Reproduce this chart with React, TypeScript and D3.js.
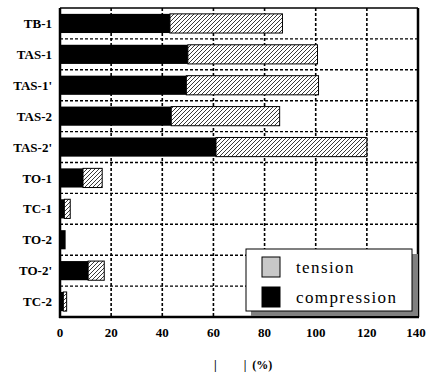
import * as d3 from 'd3';
import React, { useRef, useEffect } from 'react';

const categories = ['TB-1', 'TAS-1', "TAS-1'", 'TAS-2', "TAS-2'", 'TO-1', 'TC-1', 'TO-2', "TO-2'", 'TC-2'];
const compression = [43, 50, 49.4, 43.5, 61, 9, 1.7, 2.2, 11, 1.3];
const tension = [44, 50.7, 51.7, 42.4, 59, 7.5, 2.3, 0, 6.3, 1.3];
const xTicks = [0, 20, 40, 60, 80, 100, 120, 140];
const legendLabels = ['tension', 'compression'];

const W = 427, H = 376;
const margin = { top: 8, right: 9, bottom: 59, left: 60 };
const serif = "'Liberation Serif', 'Times New Roman', Times, serif";

function App() {
    const ref = useRef<SVGSVGElement>(null);

    useEffect(() => {
        const svg = d3.select(ref.current);
        svg.selectAll('*').remove();
        const iw = W - margin.left - margin.right;
        const ih = H - margin.top - margin.bottom;

        const defs = svg.append('defs');
        const pat = defs.append('pattern')
            .attr('id', 'hatch')
            .attr('patternUnits', 'userSpaceOnUse')
            .attr('width', 4).attr('height', 4);
        pat.append('rect').attr('width', 4).attr('height', 4).attr('fill', 'white');
        pat.append('path')
            .attr('d', 'M-1,1 l2,-2 M0,4 l4,-4 M3,5 l2,-2')
            .attr('stroke', '#222').attr('stroke-width', 0.9);

        const g = svg.append('g')
            .attr('transform', 'translate(' + margin.left + ',' + margin.top + ')');

        const x = d3.scaleLinear().domain([0, 140]).range([0, iw]);
        const y = d3.scaleBand().domain(categories).range([0, ih]).paddingInner(0.38).paddingOuter(0.19);
        const step = y.step();
        const band = (c: string) => y(c)! - y.paddingInner() * step / 2;

        // grid
        g.selectAll('line.vg')
            .data(xTicks.slice(1, -1))
            .enter().append('line')
            .attr('x1', d => x(d)).attr('x2', d => x(d))
            .attr('y1', 0).attr('y2', ih)
            .attr('stroke', 'black').attr('stroke-width', 1.6)
            .attr('stroke-dasharray', '3,2');
        g.selectAll('line.hg')
            .data(categories.slice(1))
            .enter().append('line')
            .attr('x1', 0).attr('x2', iw)
            .attr('y1', d => band(d)).attr('y2', d => band(d))
            .attr('stroke', 'black').attr('stroke-width', 1.4)
            .attr('stroke-dasharray', '3,2');

        // bars
        g.selectAll('rect.ten')
            .data(categories)
            .enter().append('rect')
            .attr('x', (d, i) => x(compression[i]))
            .attr('y', d => y(d)!)
            .attr('width', (d, i) => x(tension[i]))
            .attr('height', y.bandwidth())
            .attr('fill', 'url(#hatch)')
            .attr('stroke', (d, i) => tension[i] > 0 ? 'black' : 'none')
            .attr('stroke-width', 1);
        g.selectAll('rect.comp')
            .data(categories)
            .enter().append('rect')
            .attr('x', 0)
            .attr('y', d => y(d)!)
            .attr('width', (d, i) => x(compression[i]))
            .attr('height', y.bandwidth())
            .attr('fill', 'black');

        // frame
        g.append('line').attr('x1', 0).attr('x2', iw).attr('y1', 0).attr('y2', 0)
            .attr('stroke', 'black').attr('stroke-width', 1.5);
        g.append('line').attr('x1', iw).attr('x2', iw).attr('y1', 0).attr('y2', ih)
            .attr('stroke', 'black').attr('stroke-width', 2.5);
        g.append('line').attr('x1', 0).attr('x2', 0).attr('y1', 0).attr('y2', ih + 1)
            .attr('stroke', 'black').attr('stroke-width', 2.5);
        g.append('line').attr('x1', -1).attr('x2', iw + 1).attr('y1', ih).attr('y2', ih)
            .attr('stroke', 'black').attr('stroke-width', 2.5);

        // labels
        g.selectAll('text.yl')
            .data(categories)
            .enter().append('text')
            .attr('x', -8)
            .attr('y', d => y(d)! + y.bandwidth() / 2)
            .attr('dy', '0.35em')
            .attr('text-anchor', 'end')
            .style('font-family', serif)
            .attr('font-weight', 'bold')
            .attr('font-size', 13)
            .text(d => d);
        g.selectAll('text.xl')
            .data(xTicks)
            .enter().append('text')
            .attr('x', d => x(d))
            .attr('dx', d => d === 140 ? -2 : 0)
            .attr('y', ih + 20)
            .attr('text-anchor', 'middle')
            .style('font-family', serif)
            .attr('font-weight', 'bold')
            .attr('font-size', 13)
            .text(d => d);

        svg.append('text')
            .attr('x', 214).attr('y', 369)
            .style('font-family', serif)
            .style('white-space', 'pre')
            .attr('font-weight', 'bold').attr('font-size', 12)
            .text('|         |  (%)');

        // legend
        const lg = svg.append('g').attr('transform', 'translate(246,249)');
        lg.append('rect').attr('x', 5).attr('y', 5).attr('width', 167).attr('height', 62).attr('fill', '#808080');
        lg.append('rect').attr('x', 0).attr('y', 0).attr('width', 166).attr('height', 62)
            .attr('fill', 'white').attr('stroke', 'black').attr('stroke-width', 1);
        lg.selectAll('rect.sw')
            .data(legendLabels)
            .enter().append('rect')
            .attr('x', 16).attr('y', (d, i) => 8 + i * 30)
            .attr('width', 18).attr('height', 20)
            .attr('fill', (d, i) => i === 0 ? '#c8c8c8' : 'black')
            .attr('stroke', 'black').attr('stroke-width', 1);
        lg.selectAll('text.lt')
            .data(legendLabels)
            .enter().append('text')
            .attr('x', 50).attr('y', (d, i) => 24 + i * 30)
            .style('font-family', serif)
            .style('letter-spacing', '1.4px')
            .attr('font-size', 17)
            .text(d => d);
    }, []);

    return (
        <svg ref={ref} width={W} height={H} style={{ position: 'absolute', left: 0, top: 0, background: 'white' }} />
    );
}

export default App;
